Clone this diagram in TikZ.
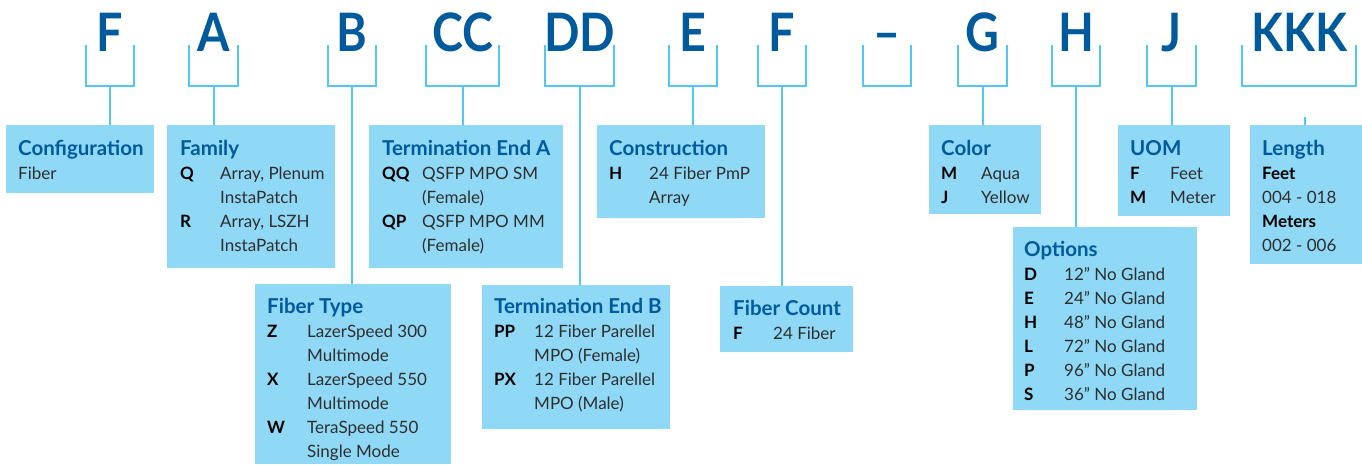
\documentclass[tikz,border=0pt]{standalone}
\usepackage{fontspec}
\setmainfont{Lato}
\usetikzlibrary{positioning}

\definecolor{codeblue}{HTML}{005A9C}
\definecolor{linkblue}{HTML}{4FC8F4}
\definecolor{boxblue}{HTML}{8FD8F6}

% code letter, heading and full-width row inside an entry
\newcommand{\cd}[1]{\textbf{\color{black}#1}}
\newcommand{\hd}[1]{\multicolumn{2}{@{}l@{}}{\fontsize{20.5}{24}\selectfont\bfseries\color{codeblue}#1}}
\newcommand{\wide}[1]{\multicolumn{2}{@{}l@{}}{#1}}
\newenvironment{entrytab}{\begin{tabular}[t]{@{}p{40pt}@{}l@{}}}{\end{tabular}}

\begin{document}
\begin{tikzpicture}[
    x=1pt, y=-1pt,
    font=\fontsize{17}{24}\selectfont,
    % --- Part number letters ---
    letter/.style={
        font=\fontsize{53}{53}\selectfont\bfseries\addfontfeature{FakeStretch=0.88},
        text=codeblue,
        anchor=base,
        inner sep=0pt
    },
    % --- Brackets and stems ---
    bracket/.style={
        draw=linkblue,
        line width=2pt
    },
    % --- Description boxes ---
    infobox/.style={
        fill=boxblue,
        anchor=north west,
        inner sep=0pt
    },
    % --- Box texts ---
    entry/.style={
        anchor=base west,
        inner sep=0pt,
        text=black!82
    }
]
    \useasboundingbox (0,0) rectangle (1362,464);

    % =========================================
    % 1. PART NUMBER WITH BRACKETS
    % =========================================
    \foreach \nm/\l/\r/\txt in {bF/86/134/F, bA/189/238/A, bB/328/376/B,
        bCC/426/499/CC, bDD/545/614/DD, bE/669/717/E, bFF/758/806/F,
        bDash/863/911/--, bG/958/1007/G, bH/1052/1100/H, bJ/1147/1196/J,
        bK/1242/1356/KKK} {
        \draw[bracket] (\l,45) |- (\r,86) -- (\r,45);
        \coordinate (\nm) at ({(\l+\r)/2},86);
        \node[letter] (l\nm) at ({(\l+\r)/2},51) {\txt};
    }

    % =========================================
    % 2. DESCRIPTION BOXES
    % =========================================
    \node[infobox, minimum width=148, minimum height=68]  (cfg)    at (6,125)    {};
    \node[infobox, minimum width=168, minimum height=143] (fam)    at (167,125)  {};
    \node[infobox, minimum width=194, minimum height=143] (termA)  at (369,125)  {};
    \node[infobox, minimum width=168, minimum height=93]  (cons)   at (597,125)  {};
    \node[infobox, minimum width=112, minimum height=89]  (color)  at (929,125)  {};
    \node[infobox, minimum width=112, minimum height=91]  (uom)    at (1118,125) {};
    \node[infobox, minimum width=112, minimum height=139] (len)    at (1250,125) {};
    \node[infobox, minimum width=184, minimum height=183] (opt)    at (1013,227) {};
    \node[infobox, minimum width=196, minimum height=180] (ftype)  at (255,284)  {};
    \node[infobox, minimum width=188, minimum height=144] (termB)  at (482,285)  {};
    \node[infobox, minimum width=133, minimum height=66]  (fcount) at (720,286)  {};

    % Stems from brackets down to boxes
    \draw[bracket] (bF)   -- (bF   |- cfg.north);
    \draw[bracket] (bA)   -- (bA   |- fam.north);
    \draw[bracket] (bB)   -- (bB   |- ftype.north);
    \draw[bracket] (bCC)  -- (bCC  |- termA.north);
    \draw[bracket] (bDD)  -- (bDD  |- termB.north);
    \draw[bracket] (bE)   -- (bE   |- cons.north);
    \draw[bracket] (bFF)  -- (bFF  |- fcount.north);
    \draw[bracket] (bG)   -- (bG   |- color.north);
    \draw[bracket] (bH)   -- (bH   |- opt.north);
    \draw[bracket] (bJ)   -- (bJ   |- uom.north);
    \draw[bracket] ([xshift=6pt]bK |- len.north) -- ++(0,-8);

    % =========================================
    % 3. BOX TEXTS
    % =========================================
    \node[entry] (cfgtext) at (18,155) {\begin{entrytab}
        \hd{Configuration}\\ \wide{Fiber}
    \end{entrytab}};

    \node[entry] (famtext) at (180,155) {\begin{entrytab}
        \hd{Family}\\
        \cd{Q} & Array, Plenum\\ & InstaPatch\\
        \cd{R} & Array, LSZH\\ & InstaPatch
    \end{entrytab}};

    \node[entry] (termAtext) at (382,155) {\begin{entrytab}
        \hd{Termination End A}\\
        \cd{QQ} & QSFP MPO SM\\ & (Female)\\
        \cd{QP} & QSFP MPO MM\\ & (Female)
    \end{entrytab}};

    \node[entry] (constext) at (609,155) {\begin{entrytab}
        \hd{Construction}\\
        \cd{H} & 24 Fiber PmP\\ & Array
    \end{entrytab}};

    \node[entry] (colortext) at (941,155) {\begin{entrytab}
        \hd{Color}\\
        \cd{M} & Aqua\\
        \cd{J} & Yellow
    \end{entrytab}};

    \node[entry] (uomtext) at (1130,155) {\begin{entrytab}
        \hd{UOM}\\
        \cd{F} & Feet\\
        \cd{M} & Meter
    \end{entrytab}};

    \node[entry] (lentext) at (1262,155) {\begin{entrytab}
        \hd{Length}\\
        \wide{\cd{Feet}}\\ \wide{004 - 018}\\
        \wide{\cd{Meters}}\\ \wide{002 - 006}
    \end{entrytab}};

    \node[entry] (opttext) at (1024,256) {\begin{entrytab}
        \hd{Options}\\
        \cd{D} & 12” No Gland\\
        \cd{E} & 24” No Gland\\
        \cd{H} & 48” No Gland\\
        \cd{L} & 72” No Gland\\
        \cd{P} & 96” No Gland\\
        \cd{S} & 36” No Gland
    \end{entrytab}};

    \node[entry] (ftypetext) at (267,313) {\begin{entrytab}
        \hd{Fiber Type}\\
        \cd{Z} & LazerSpeed 300\\ & Multimode\\
        \cd{X} & LazerSpeed 550\\ & Multimode\\
        \cd{W} & TeraSpeed 550\\ & Single Mode
    \end{entrytab}};

    \node[entry] (termBtext) at (494,313) {\begin{entrytab}
        \hd{Termination End B}\\
        \cd{PP} & 12 Fiber Parellel\\ & MPO (Female)\\
        \cd{PX} & 12 Fiber Parellel\\ & MPO (Male)
    \end{entrytab}};

    \node[entry] (fcounttext) at (733,315) {\begin{entrytab}
        \hd{Fiber Count}\\
        \cd{F} & 24 Fiber
    \end{entrytab}};

\end{tikzpicture}
\end{document}
